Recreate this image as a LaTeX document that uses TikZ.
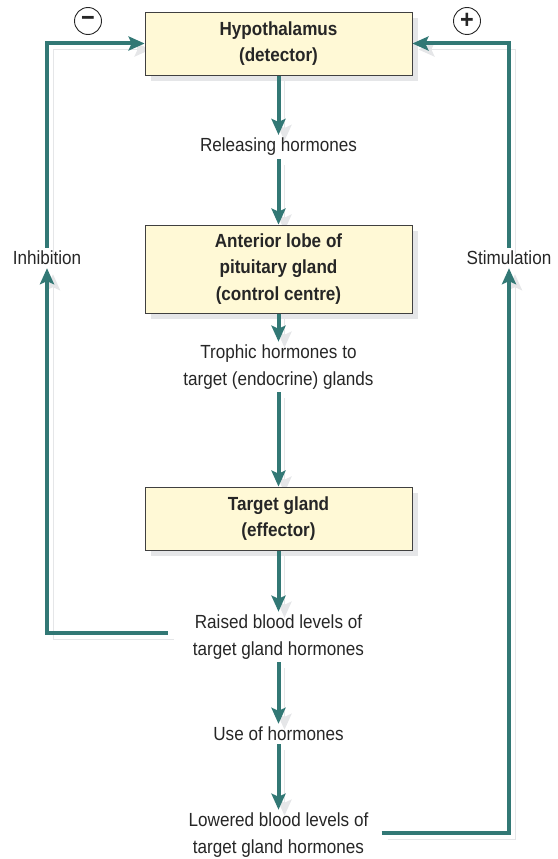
\documentclass[tikz,border=0pt]{standalone}
\usepackage{fontspec}
\setmainfont{Liberation Sans}[FakeStretch=0.9]
\usepackage{tikz}
\usetikzlibrary{arrows.meta,positioning,calc}
\definecolor{loopteal}{RGB}{50,120,117}
\definecolor{boxyellow}{RGB}{255,249,214}
\definecolor{shadegray}{RGB}{229,230,232}
\pgfdeclarelayer{shade}
\pgfdeclarelayer{back}
\pgfsetlayers{shade,back,main}

\begin{document}
\begin{tikzpicture}[x=1pt,y=-1pt,
  every node/.style={font=\fontsize{19}{26.5}\selectfont, align=center, inner sep=3pt, text=black!85},
  organ/.style={draw=black!75, line width=.8pt, fill=boxyellow, minimum width=267pt, minimum height=63pt,
    font=\bfseries\fontsize{19}{26.5}\selectfont},
  flow/.style={draw=loopteal, line width=4pt, -{Stealth[length=16pt,width=14pt,inset=3pt]},
    preaction={draw=shadegray, transform canvas={shift={(6pt,-6pt)}}}},
  sign/.style={draw=black!85, circle, line width=.9pt, minimum size=27pt, inner sep=0pt,
    font=\bfseries\fontsize{26}{26}\selectfont}]
  \useasboundingbox (0,0) rectangle (557,859);

  \node[organ] (hypo) at (278.5,43.5) {Hypothalamus\\(detector)};
  \node (rel) at (278.5,147) {Releasing hormones};
  \node[organ, minimum height=88pt] (ant) at (278.5,269) {Anterior lobe of\\pituitary gland\\(control centre)};
  \node (troph) at (278.5,367) {Trophic hormones to\\target (endocrine) glands};
  \node[organ] (tgt) at (278.5,518.5) {Target gland\\(effector)};
  \node (raised) at (278.5,637) {Raised blood levels of\\target gland hormones};
  \node (use) at (278.5,734) {Use of hormones};
  \node (low) at (278.5,835) {Lowered blood levels of\\target gland hormones};
  \node (inh) at (47,258) {Inhibition};
  \node (stim) at (509,258) {Stimulation};
  \node[sign] (minus) at (88,21) {−};
  \node[sign] (plus) at (467,21) {+};

  \begin{pgfonlayer}{shade}
    \foreach \b in {hypo,ant,tgt}
      \fill[shadegray] ($(\b.south west)+(6,6)$) rectangle ($(\b.north east)+(6,6)$);
  \end{pgfonlayer}

  \begin{pgfonlayer}{back}
    \draw[flow] (hypo) -- (rel);
    \draw[flow] (rel) -- (ant);
    \draw[flow] (ant) -- (troph);
    \draw[flow] (troph) -- (tgt);
    \draw[flow] (tgt) -- (raised);
    \draw[flow] (raised) -- (use);
    \draw[flow] (use) -- (low);
    \draw[flow] ([xshift=-22pt,yshift=4pt]raised.west) -| (inh.south);
    \draw[flow] (inh.north) |- (hypo.west);
    \draw[flow] ([xshift=10pt,yshift=2pt]low.east) -| (stim.south);
    \draw[flow] (stim.north) |- (hypo.east);
  \end{pgfonlayer}
\end{tikzpicture}
\end{document}
